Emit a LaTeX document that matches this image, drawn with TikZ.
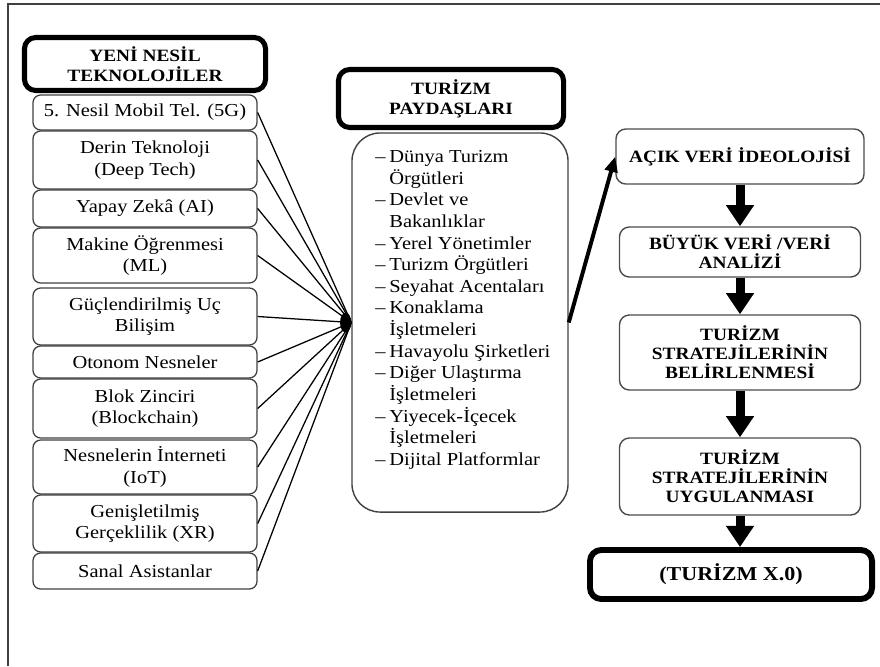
\documentclass[tikz,border=0pt]{standalone}
\usepackage{fontspec}
\setmainfont{Liberation Serif}[FakeStretch=1.12]
\usetikzlibrary{arrows.meta}

\newcommand{\itemdash}{\makebox[10pt][l]{\textendash}}
\newcommand{\itemind}{\hspace*{10pt}}

\tikzset{
  techbox/.style={draw=black!75, line width=0.9pt, rounded corners=5.5pt,
    minimum width=5.6cm, align=center, inner sep=0pt,
    font=\fontsize{13}{15.4}\selectfont},
  headbox/.style={draw, line width=3.6pt, rounded corners=8pt, align=center,
    inner sep=0pt, font=\fontsize{12.3}{14.2}\selectfont\bfseries},
  stepbox/.style={draw=black!70, line width=1pt, rounded corners=7pt,
    minimum width=6.025cm, align=center, inner sep=0pt,
    font=\fontsize{12.3}{13.5}\selectfont\bfseries},
  downarrow/.style={line width=6.4pt, -{Triangle[width=19pt,length=15pt]}},
}

\begin{document}
\begin{tikzpicture}[x=0.025cm, y=-0.025cm]
    \useasboundingbox (0,0) rectangle (880,666);
    \draw[black!75, line width=1.2pt] (8,666) -- (8,4) -- (880,4);

    % yeni nesil teknolojiler
    \node[techbox, minimum height=0.875cm] (t5g) at (145,112.5) {5. Nesil Mobil Tel. (5G)};
    \node[techbox, minimum height=1.45cm] (derin) at (145,160) {Derin Teknoloji\\(Deep Tech)};
    \node[techbox, minimum height=0.925cm] (yapay) at (145,208.5) {Yapay Zekâ (AI)};
    \node[techbox, minimum height=1.375cm] (makine) at (145,255.5) {Makine Öğrenmesi\\(ML)};
    \node[techbox, minimum height=1.425cm] (guc) at (145,316.5) {Güçlendirilmiş Uç\\Bilişim};
    \node[techbox, minimum height=0.8cm] (otonom) at (145,362) {Otonom Nesneler};
    \node[techbox, minimum height=1.475cm] (blok) at (145,408.5) {Blok Zinciri\\(Blockchain)};
    \node[techbox, minimum height=1.35cm] (iot) at (145,467) {Nesnelerin İnterneti\\(IoT)};
    \node[techbox, minimum height=1.425cm] (xr) at (145,523.5) {Genişletilmiş\\Gerçeklilik (XR)};
    \node[techbox, minimum height=0.9cm] (sanal) at (145,571) {Sanal Asistanlar};
    \node[headbox, fill=white, minimum width=6.025cm, minimum height=1.325cm] (yeni) at (145,64) {YENİ NESİL\\TEKNOLOJİLER};

    % turizm paydaslari
    \node[draw=black!75, line width=1pt, rounded corners=20pt, minimum width=5.4cm,
      minimum height=9.475cm] (list) at (460,322.5) {};
    \node[anchor=north west, align=left, inner sep=0pt, font=\fontsize{13}{15.4}\selectfont]
      (items) at (375,150) {\itemdash Dünya Turizm\\\itemind Örgütleri\\
      \itemdash Devlet ve\\\itemind Bakanlıklar\\
      \itemdash Yerel Yönetimler\\
      \itemdash Turizm Örgütleri\\
      \itemdash Seyahat Acentaları\\
      \itemdash Konaklama\\\itemind İşletmeleri\\
      \itemdash Havayolu Şirketleri\\
      \itemdash Diğer Ulaştırma\\\itemind İşletmeleri\\
      \itemdash Yiyecek-İçecek\\\itemind İşletmeleri\\
      \itemdash Dijital Platformlar};
    \node[headbox, fill=white, minimum width=5.625cm, minimum height=1.45cm] (payd) at (451,98.5) {TURİZM\\PAYDAŞLARI};

    \foreach \n in {t5g,derin,yapay,makine,guc,otonom,blok,iot,xr,sanal}
        \draw[line width=0.9pt] (\n.east) -- (list.west);
    \fill ([xshift=-4pt]list.west) ellipse [x radius=4pt, y radius=7pt];

    % adimlar
    \node[stepbox, minimum width=6.2cm, minimum height=1.375cm] (acik) at (740,156.5) {AÇIK VERİ İDEOLOJİSİ};
    \node[stepbox, minimum height=1.25cm] (buyuk) at (740,252) {BÜYÜK VERİ /VERİ\\ANALİZİ};
    \node[stepbox, minimum height=1.875cm] (belir) at (740,352.5) {TURİZM\\STRATEJİLERİNİN\\BELİRLENMESİ};
    \node[stepbox, minimum height=1.925cm] (uygu) at (740,476.5) {TURİZM\\STRATEJİLERİNİN\\UYGULANMASI};
    \node[headbox, line width=4.2pt, minimum width=7.05cm, minimum height=1.225cm,
      font=\fontsize{14}{16}\selectfont\bfseries] (x0) at (731,574.5) {(TURİZM X.0)};

    \draw[line width=2.8pt, -{Triangle[length=11pt,width=9pt]}] (list.east) -- (acik.west);
    \draw[downarrow] (acik.south) -- (buyuk.north);
    \draw[downarrow] (buyuk.south) -- (belir.north);
    \draw[downarrow] (belir.south) -- (uygu.north);
    \draw[downarrow] (uygu.south) -- (uygu.south |- x0.north);
\end{tikzpicture}
\end{document}
